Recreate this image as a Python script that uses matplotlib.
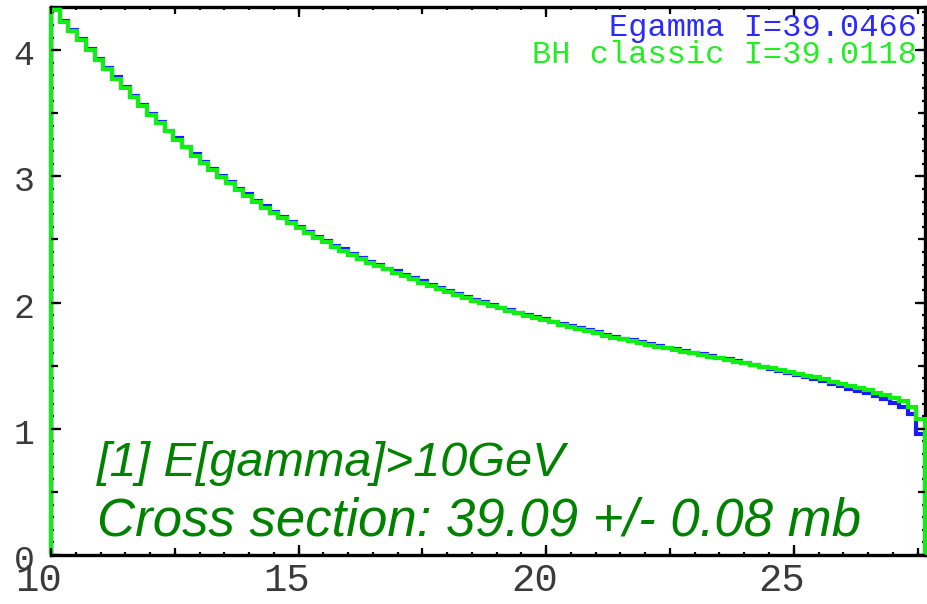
import numpy as np
import matplotlib
matplotlib.use("Agg")
import matplotlib.pyplot as plt
from matplotlib.ticker import MultipleLocator, NullFormatter
from matplotlib.transforms import ScaledTranslation

# Photon energy spectrum, 100 bins between 10 GeV and the beam energy
e_min, e_max, n_bins = 10.0, 27.65, 100

bh_classic = [
    4.32, 4.22, 4.15, 4.08, 4.00, 3.92, 3.85, 3.775, 3.70, 3.63,
    3.556, 3.488, 3.42, 3.356, 3.292, 3.229, 3.164, 3.107, 3.05, 2.996,
    2.944, 2.893, 2.845, 2.797, 2.753, 2.709, 2.669, 2.630, 2.590, 2.551,
    2.512, 2.478, 2.442, 2.410, 2.378, 2.346, 2.317, 2.291, 2.264, 2.238,
    2.212, 2.186, 2.159, 2.133, 2.107, 2.082, 2.060, 2.038, 2.016, 1.995,
    1.974, 1.954, 1.933, 1.914, 1.896, 1.879, 1.861, 1.844, 1.826, 1.809,
    1.791, 1.774, 1.756, 1.739, 1.721, 1.708, 1.695, 1.681, 1.667, 1.652,
    1.637, 1.624, 1.611, 1.598, 1.585, 1.572, 1.558, 1.545, 1.532, 1.519,
    1.506, 1.493, 1.480, 1.467, 1.452, 1.437, 1.422, 1.409, 1.391, 1.374,
    1.356, 1.339, 1.321, 1.304, 1.285, 1.264, 1.241, 1.22, 1.17, 1.08,
]

egamma = [
    4.33, 4.23, 4.16, 4.09, 4.01, 3.93, 3.86, 3.785, 3.71, 3.64,
    3.566, 3.495, 3.432, 3.362, 3.303, 3.236, 3.175, 3.114, 3.062, 3.004,
    2.955, 2.899, 2.857, 2.803, 2.764, 2.716, 2.678, 2.637, 2.599, 2.560,
    2.521, 2.487, 2.450, 2.421, 2.384, 2.355, 2.324, 2.300, 2.270, 2.247,
    2.220, 2.192, 2.168, 2.139, 2.116, 2.089, 2.068, 2.043, 2.024, 2.001,
    1.982, 1.959, 1.941, 1.920, 1.903, 1.884, 1.869, 1.850, 1.833, 1.814,
    1.798, 1.779, 1.763, 1.744, 1.728, 1.713, 1.701, 1.686, 1.673, 1.657,
    1.642, 1.630, 1.615, 1.603, 1.589, 1.577, 1.561, 1.550, 1.535, 1.523,
    1.506, 1.491, 1.476, 1.461, 1.444, 1.428, 1.411, 1.396, 1.377, 1.358,
    1.338, 1.319, 1.299, 1.280, 1.258, 1.234, 1.205, 1.17, 1.12, 0.96,
]

legend_lines = ["Egamma I=39.0466", "BH classic I=39.0118"]
title_line = "[1] E[gamma]>10GeV"
xsec_line = "Cross section: 39.09 +/- 0.08 mb"
x_ticks = [10, 15, 20, 25]
y_ticks = [0, 1, 2, 3, 4]

edges = np.linspace(e_min, e_max, n_bins + 1)

W, H = 927, 604
fig = plt.figure(figsize=(W / 100, H / 100), dpi=100)
fig.patch.set_facecolor("white")
left_px, right_px, top_px, bottom_px = 51, 925, 7, 555
rect = [left_px / W, 1 - bottom_px / H, (right_px - left_px) / W, (bottom_px - top_px) / H]
ax = fig.add_axes(rect)
ax.set_facecolor("white")

ax.stairs(egamma, edges, baseline=0, color="#1a1aff", lw=3.0, zorder=3, clip_on=False)
ax.stairs(bh_classic, edges, baseline=0, color="#11ee11", lw=3.0, zorder=4, clip_on=False)

ax.set_xlim(e_min, e_max)
ax.set_ylim(0, 4.342)

for s in ax.spines.values():
    s.set_linewidth(2.4)
    s.set_color("black")
    s.set_zorder(2)

tick_font = dict(family=["Liberation Mono", "DejaVu Sans Mono"], color="#3a3a3a")
ax.set_xticks(x_ticks)
ax.set_yticks(y_ticks)
ax.xaxis.set_minor_locator(MultipleLocator(0.5))
ax.yaxis.set_minor_locator(MultipleLocator(0.1))
ax.tick_params(which="major", direction="in", length=7.5, width=1.6,
               top=True, right=True, colors="black")
ax.tick_params(which="minor", direction="in", length=2.4, width=1.6,
               top=True, right=True, colors="black")
ax.tick_params(axis="x", which="major", pad=6)
ax.tick_params(axis="y", which="major", pad=12)
ax.set_xticklabels([str(v) for v in x_ticks], fontsize=28, **tick_font)
ax.set_yticklabels([str(v) for v in y_ticks], fontsize=25, **tick_font)

# x labels sit slightly left of their ticks
shift = ScaledTranslation(-12 / 100, 0, fig.dpi_scale_trans)
for lab in ax.get_xticklabels():
    lab.set_transform(lab.get_transform() + shift)
ydown = ScaledTranslation(0, -2 / 100, fig.dpi_scale_trans)
for lab in ax.get_yticklabels():
    lab.set_transform(lab.get_transform() + ydown)

# medium ticks at the half-way marks
ax_half = fig.add_axes(rect, frameon=False)
ax_half.set_xlim(ax.get_xlim())
ax_half.set_ylim(ax.get_ylim())
ax_half.xaxis.set_major_locator(MultipleLocator(2.5))
ax_half.yaxis.set_major_locator(MultipleLocator(0.5))
ax_half.xaxis.set_major_formatter(NullFormatter())
ax_half.yaxis.set_major_formatter(NullFormatter())
ax_half.tick_params(which="major", direction="in", length=5, width=1.6,
                    top=True, right=True, left=True, bottom=True, colors="black")
ax_half.set_zorder(ax.get_zorder() + 1)
ax_half.patch.set_visible(False)

def px_to_axes(xp, yp):
    return ((xp - left_px) / (right_px - left_px), (bottom_px - yp) / (bottom_px - top_px))

mono = ["Liberation Mono", "DejaVu Sans Mono"]
x, y = px_to_axes(917, 36)
ax.text(x, y, legend_lines[0], transform=ax.transAxes, ha="right", va="baseline",
        fontsize=23, family=mono, color="#2a2aff", zorder=6)
x, y = px_to_axes(917, 63)
ax.text(x, y, legend_lines[1], transform=ax.transAxes, ha="right", va="baseline",
        fontsize=23, family=mono, color="#22ee22", zorder=6)

sans = ["Liberation Sans", "DejaVu Sans"]
x, y = px_to_axes(97, 476)
ax.text(x, y, title_line, transform=ax.transAxes, ha="left", va="baseline",
        fontsize=35, style="italic", family=sans, color="#008200", zorder=6)
x, y = px_to_axes(97, 536)
ax.text(x, y, xsec_line, transform=ax.transAxes, ha="left", va="baseline",
        fontsize=38, style="italic", family=sans, color="#008200", zorder=6)

fig.savefig("out.png", dpi=100)
